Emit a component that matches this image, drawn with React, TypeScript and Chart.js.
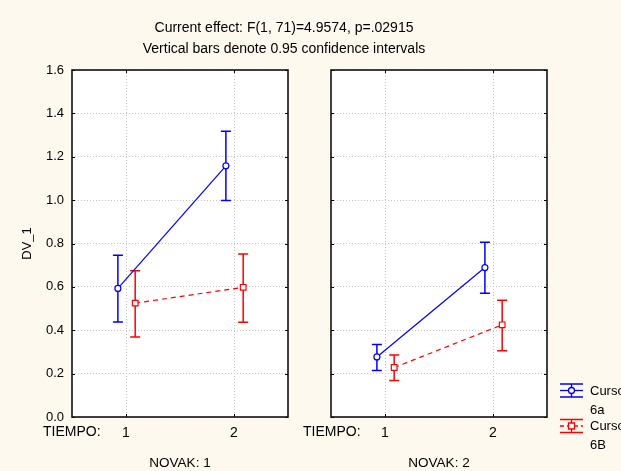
import React, { useEffect, useRef } from 'react';
import { Chart, registerables } from 'chart.js';

Chart.register(...registerables);

// ---------- data ----------
const TITLE_LINES = [
  'Current effect: F(1, 71)=4.9574, p=.02915',
  'Vertical bars denote 0.95 confidence intervals',
];
const Y_TITLE = 'DV_1';
const X_FACTOR_LABEL = 'TIEMPO:';
const TIEMPO_LEVELS = ['1', '2'];
const PANEL_TITLES = ['NOVAK: 1', 'NOVAK: 2'];
const LEGEND_LINES = [
  ['Curso', '6a'],
  ['Curso', '6B'],
];

// NOVAK 1
const N1_6A_MEAN = [0.593, 1.158];
const N1_6A_LOW = [0.438, 0.998];
const N1_6A_HIGH = [0.746, 1.318];
const N1_6B_MEAN = [0.525, 0.598];
const N1_6B_LOW = [0.369, 0.437];
const N1_6B_HIGH = [0.674, 0.752];
// NOVAK 2
const N2_6A_MEAN = [0.277, 0.689];
const N2_6A_LOW = [0.214, 0.571];
const N2_6A_HIGH = [0.334, 0.806];
const N2_6B_MEAN = [0.228, 0.425];
const N2_6B_LOW = [0.168, 0.306];
const N2_6B_HIGH = [0.286, 0.538];

const Y_MIN = 0;
const Y_MAX = 1.6;
const Y_STEP = 0.2;

// ---------- styles ----------
const BG = '#fdf9ef';
const COLORS = ['#0000ff', '#ff0000'];
const DODGE = [-0.075, 0.085];
const FONT = '"Liberation Sans", Arial, sans-serif';

const PANELS = [
  [
    { mean: N1_6A_MEAN, low: N1_6A_LOW, high: N1_6A_HIGH },
    { mean: N1_6B_MEAN, low: N1_6B_LOW, high: N1_6B_HIGH },
  ],
  [
    { mean: N2_6A_MEAN, low: N2_6A_LOW, high: N2_6A_HIGH },
    { mean: N2_6B_MEAN, low: N2_6B_LOW, high: N2_6B_HIGH },
  ],
];

Chart.defaults.font.family = FONT;
Chart.defaults.font.size = 13;
Chart.defaults.color = '#000';

function drawGlyph(ctx: CanvasRenderingContext2D, si: number, x0: number, x1: number, cy: number) {
  const color = COLORS[si];
  const cx = (x0 + x1) / 2;
  ctx.save();
  ctx.strokeStyle = color;
  ctx.lineWidth = 1.3;
  ctx.beginPath();
  ctx.moveTo(x0, cy - 6.5);
  ctx.lineTo(x1, cy - 6.5);
  ctx.moveTo(x0, cy + 6.5);
  ctx.lineTo(x1, cy + 6.5);
  ctx.moveTo(cx, cy - 6.5);
  ctx.lineTo(cx, cy + 6.5);
  ctx.stroke();
  ctx.setLineDash(si === 1 ? [4, 3] : []);
  ctx.beginPath();
  ctx.moveTo(x0, cy);
  ctx.lineTo(x1, cy);
  ctx.stroke();
  ctx.setLineDash([]);
  ctx.fillStyle = '#fff';
  ctx.beginPath();
  if (si === 0) {
    ctx.arc(cx, cy, 3, 0, Math.PI * 2);
  } else {
    ctx.rect(cx - 3, cy - 3, 6, 6);
  }
  ctx.fill();
  ctx.stroke();
  ctx.restore();
}

function panelConfig(panel: number): any {
  const isFirst = panel === 0;
  const series = PANELS[panel];
  const datasets = series.map((s, si) => ({
    label: LEGEND_LINES[si].join(' '),
    data: TIEMPO_LEVELS.map((_, ti) => ({ x: ti + 1 + DODGE[si], y: s.mean[ti] })),
    low: s.low,
    high: s.high,
    showLine: true,
    borderColor: COLORS[si],
    backgroundColor: '#fff',
    borderWidth: 1.2,
    borderDash: si === 1 ? [5, 4] : [],
    pointStyle: si === 0 ? 'circle' : 'rect',
    pointRadius: si === 0 ? 3 : 4,
    pointBorderWidth: 1.2,
    pointBackgroundColor: '#fff',
    pointBorderColor: COLORS[si],
    fill: false,
    tension: 0,
  }));

  const framePlugin = {
    id: 'frame' + panel,
    beforeDraw(chart: any) {
      const { ctx, chartArea: a } = chart;
      ctx.save();
      ctx.fillStyle = '#ffffff';
      ctx.fillRect(a.left, a.top, a.right - a.left, a.bottom - a.top);
      ctx.restore();
    },
    beforeDatasetsDraw(chart: any) {
      const { ctx } = chart;
      const ys = chart.scales.y;
      chart.data.datasets.forEach((ds: any, di: number) => {
        const meta = chart.getDatasetMeta(di);
        ctx.save();
        ctx.strokeStyle = ds.borderColor;
        ctx.lineWidth = 1.5;
        meta.data.forEach((pt: any, j: number) => {
          const yl = ys.getPixelForValue(ds.low[j]);
          const yh = ys.getPixelForValue(ds.high[j]);
          ctx.beginPath();
          ctx.moveTo(pt.x, yl);
          ctx.lineTo(pt.x, yh);
          ctx.moveTo(pt.x - 5, yl);
          ctx.lineTo(pt.x + 5, yl);
          ctx.moveTo(pt.x - 5, yh);
          ctx.lineTo(pt.x + 5, yh);
          ctx.stroke();
        });
        ctx.restore();
      });
    },
    afterDraw(chart: any) {
      const { ctx, chartArea: a } = chart;
      const xs = chart.scales.x;
      const ys = chart.scales.y;
      ctx.save();
      ctx.strokeStyle = '#000';
      ctx.lineWidth = 1;
      ctx.beginPath();
      ys.ticks.forEach((t: any) => {
        const y = Math.round(ys.getPixelForValue(t.value)) + 0.5;
        ctx.moveTo(a.left, y);
        ctx.lineTo(a.left + 3, y);
        ctx.moveTo(a.right, y);
        ctx.lineTo(a.right - 3, y);
      });
      xs.ticks.forEach((t: any) => {
        const x = Math.round(xs.getPixelForValue(t.value)) + 0.5;
        ctx.moveTo(x, a.top);
        ctx.lineTo(x, a.top + 3);
        ctx.moveTo(x, a.bottom);
        ctx.lineTo(x, a.bottom - 3);
      });
      ctx.stroke();
      ctx.lineWidth = 1.6;
      ctx.strokeStyle = '#111';
      ctx.strokeRect(a.left, a.top, a.right - a.left, a.bottom - a.top);
      ctx.fillStyle = '#000';
      ctx.font = '14px ' + FONT;
      ctx.textBaseline = 'middle';
      ctx.textAlign = 'left';
      ctx.fillText(X_FACTOR_LABEL, isFirst ? 43 : 13, 432);
      if (isFirst) {
        ctx.textAlign = 'center';
        ctx.fillText(TITLE_LINES[0], 284, 28);
        ctx.fillText(TITLE_LINES[1], 284, 49);
      } else {
        ctx.font = '13px ' + FONT;
        LEGEND_LINES.forEach((lines, si) => {
          const cy = 390.5 + si * 35.5;
          drawGlyph(ctx, si, 270, 293, cy);
          ctx.fillStyle = '#000';
          ctx.textAlign = 'left';
          ctx.textBaseline = 'middle';
          lines.forEach((ln, li) => ctx.fillText(ln, 300, cy + 0.5 + li * 19));
        });
      }
      ctx.restore();
    },
  };

  return {
    type: 'scatter',
    data: { datasets },
    plugins: [framePlugin],
    options: {
      responsive: false,
      animation: false,
      events: [],
      layout: {
        padding: { top: 70, right: isFirst ? 333 : 74, bottom: 0, left: 0 },
      },
      plugins: {
        legend: { display: false },
        tooltip: { enabled: false },
        title: { display: false },
      },
      scales: {
        x: {
          type: 'linear',
          min: 0.5,
          max: 2.5,
          afterBuildTicks: (scale: any) => {
            scale.ticks = TIEMPO_LEVELS.map((_, i) => ({ value: i + 1 }));
          },
          afterFit: (scale: any) => {
            scale.height = 54;
          },
          ticks: {
            padding: 8,
            color: '#000',
            font: { size: 14 },
            callback: (v: any) => TIEMPO_LEVELS[Math.round(v) - 1] ?? '',
          },
          grid: { color: '#c4c4c4', lineWidth: 1, drawTicks: false },
          border: { display: false, dash: [1, 2] },
          title: {
            display: true,
            text: PANEL_TITLES[panel],
            color: '#000',
            font: { size: 13.5 },
            padding: { top: 0, bottom: 0 },
          },
        },
        y: {
          type: 'linear',
          min: Y_MIN,
          max: Y_MAX,
          afterFit: (scale: any) => {
            scale.width = isFirst ? 72 : 41;
          },
          ticks: {
            display: isFirst,
            stepSize: Y_STEP,
            padding: 8,
            color: '#000',
            font: { size: 13 },
            callback: (v: any) => Number(v).toFixed(1),
          },
          grid: { color: '#c4c4c4', lineWidth: 1, drawTicks: false },
          border: { display: false, dash: [1, 2] },
          title: {
            display: isFirst,
            text: Y_TITLE,
            color: '#000',
            font: { size: 13 },
            padding: { top: 20, bottom: 0 },
          },
        },
      },
    },
  };
}

export default function App() {
  const ref1 = useRef<HTMLCanvasElement>(null);
  const ref2 = useRef<HTMLCanvasElement>(null);
  useEffect(() => {
    const c1 = new Chart(ref1.current as HTMLCanvasElement, panelConfig(0));
    const c2 = new Chart(ref2.current as HTMLCanvasElement, panelConfig(1));
    return () => {
      c1.destroy();
      c2.destroy();
    };
  }, []);
  return (
    <div
      style={{
        position: 'fixed',
        left: 0,
        top: 0,
        width: 621,
        height: 471,
        background: BG,
        overflow: 'hidden',
      }}
    >
      <canvas ref={ref1} width={621} height={471} style={{ position: 'absolute', left: 0, top: 0 }} />
      <canvas ref={ref2} width={331} height={471} style={{ position: 'absolute', left: 290, top: 0 }} />
    </div>
  );
}
